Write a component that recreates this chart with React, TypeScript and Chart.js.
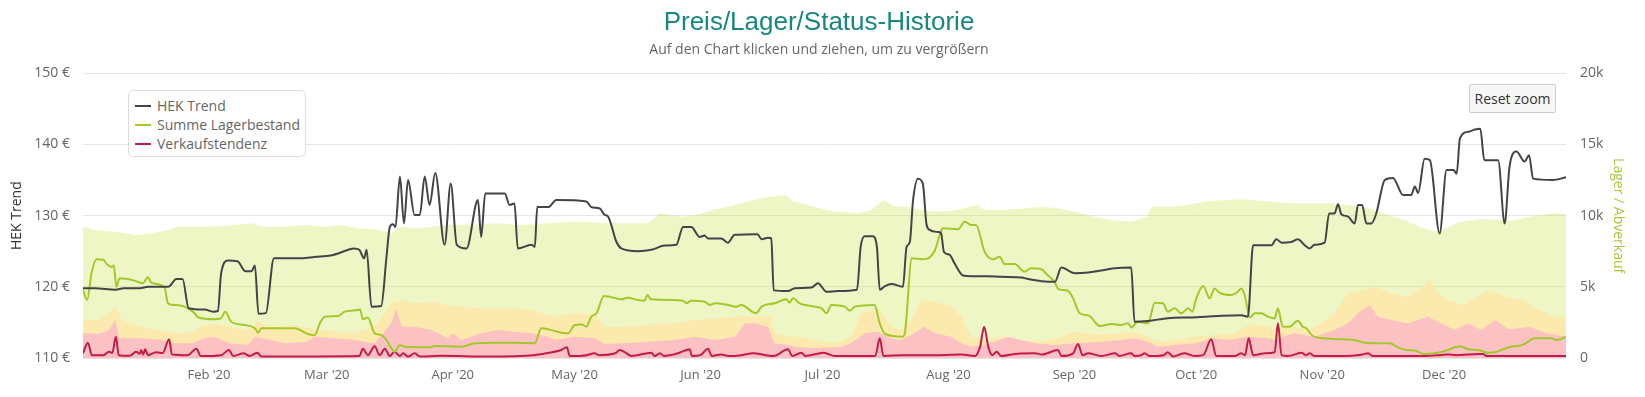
import React, { useEffect, useRef } from 'react';
import { Chart, registerables } from 'chart.js';

Chart.register(...registerables);

// ---- categories / ticks ----
const monthTickDays = [31, 60, 91, 121, 152, 182, 213, 244, 274, 305, 335];
const monthTickLabels = ["Feb '20", "Mar '20", "Apr '20", "May '20", "Jun '20", "Jul '20", "Aug '20", "Sep '20", "Oct '20", "Nov '20", "Dec '20"];
const hekTickLabels = ['110 €', '120 €', '130 €', '140 €', '150 €'];
const lagerTickLabels = ['0', '5k', '10k', '15k', '20k'];

// ---- HEK Trend (day of year 2020, €) ----
const hekDays = [0, 3, 8, 10, 14, 16, 21, 23, 24.5, 26, 30, 32, 33.2, 34, 35.7, 38, 40, 41.5, 42.3, 43.2, 45, 47, 54, 57, 61, 65.3, 66.6, 68, 69.2, 69.8, 71, 73.4, 74.7, 75.5, 76.3, 76.9, 78, 79, 80, 81.6, 82.9, 84.1, 85.3, 86.7, 89, 90.5, 92, 94.4, 97.2, 98, 99, 103.8, 105, 106.2, 107, 110.4, 111.2, 111.8, 114.5, 116.5, 123.9, 125.1, 127.2, 128.4, 129.2, 131.3, 132.5, 136.6, 139.9, 143.2, 146, 147.7, 149.7, 151.8, 153, 153.8, 157.1, 158.7, 160.4, 166, 167, 168.6, 169.4, 170, 173.5, 175.2, 179.3, 180.9, 183, 185.8, 190.5, 191.4, 192.4, 194.4, 195.4, 196.1, 197.4, 199, 201.8, 202.7, 203.5, 204.3, 205.5, 206.7, 207.6, 208.4, 210.4, 211.2, 211.9, 213.3, 214.5, 216.6, 218.6, 222.8, 226, 231, 232.6, 235.9, 239.2, 240.8, 244.1, 247.4, 250.6, 253.9, 258, 258.8, 262.1, 267, 272.8, 279.4, 285.1, 286.7, 288, 292.5, 293.7, 295, 297.4, 299, 300.7, 301.9, 303.1, 305.6, 306.7, 308, 308.9, 309.7, 311.3, 313, 313.8, 314.8, 315.9, 317.1, 318.3, 320.4, 322.4, 324.9, 326.9, 327.8, 328.6, 330.2, 331.5, 333.9, 335.6, 337.3, 338.1, 338.9, 341, 342.6, 343.9, 344.9, 348.3, 349.9, 351.1, 352.8, 354.8, 355.9, 356.9, 361.8, 365];
const hekValues = [119.8, 119.8, 119.6, 119.8, 119.8, 120.0, 120.0, 121.1, 121.1, 117.0, 116.8, 116.5, 116.6, 121.9, 123.7, 123.6, 122.2, 122.2, 123.0, 116.2, 116.3, 124.0, 124.0, 124.2, 124.4, 125.2, 125.4, 125.2, 124.0, 125.2, 117.2, 117.3, 124.2, 128.4, 128.8, 128.4, 135.5, 128.9, 135.0, 130.1, 130.1, 135.5, 131.5, 136.0, 125.9, 134.5, 125.9, 125.4, 132.2, 127.0, 133.1, 133.1, 131.5, 131.7, 125.4, 125.9, 125.6, 131.2, 131.2, 132.2, 132.0, 131.2, 131.0, 130.1, 129.9, 126.3, 125.4, 125.0, 125.2, 125.8, 125.9, 128.4, 128.4, 127.0, 127.2, 126.8, 126.8, 126.2, 127.3, 127.4, 126.7, 126.9, 126.8, 119.5, 119.4, 119.8, 119.9, 120.5, 119.3, 119.4, 119.6, 125.6, 127.1, 127.1, 125.6, 119.6, 120.1, 120.4, 120.0, 125.6, 126.3, 132.2, 135.2, 134.5, 128.8, 128.0, 127.7, 127.5, 124.9, 124.5, 123.3, 121.6, 121.5, 121.5, 121.4, 121.3, 121.1, 120.8, 120.7, 122.7, 121.9, 122.0, 122.3, 122.6, 122.7, 115.1, 115.2, 115.6, 115.7, 115.9, 116.0, 115.8, 125.85, 125.85, 126.7, 126.2, 126.3, 126.7, 125.85, 125.4, 125.9, 126.2, 130.3, 130.3, 131.6, 130.2, 129.9, 128.9, 131.5, 131.5, 128.9, 128.9, 130.3, 135.0, 135.3, 132.9, 132.9, 134.1, 133.2, 138.0, 137.8, 127.5, 136.4, 136.4, 135.9, 140.9, 141.8, 142.1, 142.2, 137.8, 137.8, 128.9, 136.9, 139.0, 137.6, 138.5, 135.2, 135.0, 135.4];

// ---- Summe Lagerbestand ----
const lagerDays = [0, 1, 2.1, 3.3, 5, 5.8, 7, 7.6, 8.2, 9, 12.7, 14.7, 16, 16.8, 20.1, 20.9, 22.5, 25, 27.5, 28.3, 32.4, 34, 35, 36.5, 39.8, 42.3, 43.1, 43.9, 52.1, 55.4, 57, 58.3, 59.5, 62.8, 64.4, 67.7, 68.2, 68.9, 70.1, 71.8, 73.4, 74.7, 76.7, 78, 79.2, 85.7, 86.5, 93.1, 96.4, 101.3, 106.2, 111.2, 112.8, 114.5, 117.7, 119.4, 121, 122.7, 123.9, 125.1, 126.4, 128.2, 129.6, 132.5, 134, 136.6, 138.2, 138.9, 139.8, 144.8, 147.7, 148.5, 149.7, 153, 154.3, 155.5, 158.7, 160.8, 162, 165.7, 167, 170.2, 173.1, 173.9, 174.7, 176.4, 180.1, 181.8, 183, 184.2, 187.5, 188.7, 190, 194.8, 196.1, 197.4, 201.8, 202.3, 204, 206.7, 208, 209.7, 211.3, 211.7, 215.4, 217, 218.6, 219.8, 221.9, 224, 225.6, 226.8, 229.3, 231.7, 233.3, 235.9, 237.1, 239.2, 240, 242.4, 243.7, 245.3, 247.7, 249, 250.3, 253.1, 255.5, 257.2, 258, 259.6, 262.1, 263.8, 265.8, 267, 268.7, 270.3, 272, 273, 274, 275.7, 277.3, 278.5, 279.7, 282.6, 284, 285.1, 285.9, 287.2, 288.4, 290, 291.7, 293.3, 294.1, 295.3, 297, 299, 300.2, 301.1, 302.7, 305.6, 309.7, 313, 315.5, 319.6, 321.6, 323.7, 325.7, 327.8, 330.2, 332.7, 336, 337.6, 339, 341, 343.4, 345.8, 347.5, 349.1, 351.4, 353.1, 354.7, 357.3, 361.3, 362.9, 365];
const lagerValues = [4777, 4075, 5950, 6930, 6900, 6620, 6385, 6500, 5010, 5600, 5435, 5250, 5670, 5290, 4940, 3840, 3725, 3610, 3140, 2860, 2720, 2800, 3255, 2550, 2320, 2085, 1780, 2085, 2085, 1686, 1600, 2435, 2900, 2950, 3255, 3370, 3400, 2730, 2850, 1735, 1620, 1265, 443, 910, 794, 750, 850, 794, 1030, 1075, 1075, 1030, 2085, 2020, 1780, 1735, 2320, 2360, 2200, 2900, 3140, 4355, 4310, 4120, 4240, 4075, 4030, 4425, 4120, 4075, 4030, 3840, 4030, 3960, 3725, 3840, 3725, 3600, 3725, 3140, 3610, 3840, 4120, 3890, 4190, 3840, 3610, 3490, 3140, 3725, 3610, 3320, 3610, 3725, 2435, 1686, 1500, 1780, 7000, 6930, 7000, 7590, 8990, 9110, 9050, 9580, 9345, 9345, 7470, 6930, 7110, 6600, 6600, 6065, 6300, 6240, 5900, 5315, 4840, 4725, 4190, 3140, 2960, 2550, 2240, 2390, 2320, 2435, 2150, 2550, 2435, 3885, 3840, 3255, 3490, 3140, 3490, 3255, 4190, 5060, 4190, 4890, 4600, 4425, 4600, 4890, 4425, 2860, 3140, 3140, 2900, 2780, 3490, 2200, 2200, 2620, 2200, 2085, 1545, 1380, 1310, 1265, 1075, 1030, 1030, 750, 560, 520, 280, 330, 560, 750, 800, 610, 560, 375, 400, 560, 795, 840, 980, 1380, 1380, 1265, 1500];

// ---- Verkaufstendenz ----
const tendenzDays = [0, 1.2, 2.2, 5, 6.4, 7.2, 8.1, 8.8, 11.5, 13.1, 14, 14.3, 14.8, 15.3, 16, 18, 19.6, 21.2, 21.9, 25.8, 27.9, 29, 34, 35.9, 37, 39.6, 41, 42.9, 43.9, 68, 68.9, 70.1, 71.8, 73, 74.3, 75.5, 76.7, 78, 78.8, 80, 81.6, 83, 88, 100, 111, 114, 117.7, 119.1, 119.8, 124, 125.9, 127, 131, 132.1, 133.5, 135, 139.9, 140.7, 142, 143, 146.4, 148.1, 149.3, 149.9, 152, 153.8, 154.8, 157, 159, 162, 165, 168, 170, 173.5, 174.6, 176.8, 177.8, 182.3, 185, 195, 196.1, 197, 202, 207.8, 211, 216.2, 219.5, 220.8, 221.8, 222.8, 223.8, 224.9, 226, 230, 234.3, 236, 240, 240.8, 243.7, 244.9, 246, 247.4, 250.6, 254.1, 255, 258, 258.8, 260.5, 261.3, 262.5, 266, 267, 268.3, 271, 273.6, 275.7, 277.7, 278.9, 283.5, 285, 286, 286.9, 288, 291, 293.3, 294.1, 295, 296.6, 299.9, 301, 301.9, 303.1, 310, 315, 316.3, 317.5, 330, 334, 336, 338, 341, 344.6, 345.4, 365];
const tendenzValues = [330, 1075, 200, 200, 445, 350, 1500, 200, 150, 445, 300, 560, 250, 610, 200, 400, 350, 1310, 250, 200, 655, 140, 200, 560, 140, 330, 140, 375, 100, 140, 655, 200, 820, 200, 655, 140, 445, 140, 330, 100, 330, 100, 150, 100, 200, 330, 560, 750, 140, 200, 330, 200, 330, 560, 375, 140, 375, 140, 330, 140, 330, 520, 610, 140, 200, 655, 140, 250, 140, 200, 330, 200, 140, 610, 140, 375, 140, 375, 140, 140, 1380, 140, 200, 200, 200, 250, 140, 800, 2200, 800, 200, 445, 140, 300, 330, 250, 560, 140, 330, 985, 200, 330, 140, 330, 140, 330, 140, 200, 330, 140, 200, 400, 100, 330, 140, 200, 1310, 140, 140, 330, 200, 1380, 200, 330, 400, 2435, 200, 140, 375, 200, 330, 140, 140, 250, 330, 140, 140, 200, 250, 200, 250, 280, 140, 140];

// ---- background areas (Lager / Abverkauf axis) ----
const areaGreenDays = [0, 3, 8, 13, 17, 21, 23, 30, 36, 42, 44, 49, 55, 60, 63, 68, 73, 76, 78, 82, 86, 90, 97, 102, 107, 111, 114, 117, 120, 123, 128, 134, 139, 142, 145, 147, 151, 155, 160, 162, 165, 169, 173, 175, 180, 185, 191, 194, 197, 200, 203, 206, 210, 215, 220, 222, 227, 232, 236, 240, 244, 249, 253, 258, 262, 263, 268, 272, 276, 281, 285, 292, 297, 302, 307, 311, 315, 320, 325, 330, 333, 336, 339, 344, 349, 352, 356, 362, 365];
const areaGreenValues = [9225, 8990, 8875, 8640, 8760, 8990, 9225, 9225, 9300, 9460, 9225, 9225, 9340, 9225, 9340, 9110, 8990, 8760, 9225, 9110, 9225, 9340, 9400, 9460, 9340, 9400, 9460, 9500, 9580, 9580, 9460, 9460, 9460, 10165, 10050, 9930, 10050, 10400, 10700, 10870, 11100, 11330, 11450, 10990, 10630, 10280, 10165, 10400, 11100, 10630, 10630, 10400, 10280, 10400, 10750, 10400, 10400, 10520, 10630, 10520, 10280, 9930, 9700, 9580, 9930, 10630, 10630, 10750, 10990, 11100, 11160, 10990, 10870, 10870, 10870, 10750, 10630, 10165, 9700, 9110, 8870, 9200, 9580, 9745, 9700, 9650, 9930, 10165, 10100];
const areaYellowDays = [0, 4, 6.4, 8.1, 9.6, 14.3, 19.3, 22.5, 26, 28.9, 32.4, 36, 40.6, 42.7, 46, 52, 57, 62, 66.6, 71.8, 75.9, 78.4, 81.6, 85.7, 89, 93, 98, 102, 106.2, 110.4, 113, 116, 121, 126, 128.4, 133, 139, 145.6, 150.6, 155.5, 160.4, 165, 169.4, 170.2, 173.5, 176, 180.1, 185, 189.1, 191.5, 195.6, 198.9, 201.3, 203.8, 206.3, 209.6, 213.7, 216.2, 218.6, 222, 226, 231, 236, 240, 244.1, 250.6, 255, 258.8, 262.1, 264.5, 268.7, 273.6, 278.5, 283.5, 287.5, 291.7, 294, 297.4, 301.5, 304.8, 308, 311.3, 314.6, 317.9, 322, 326.1, 328.6, 331.4, 333.5, 336, 339.5, 343, 346, 350.3, 354.4, 357.7, 361.8, 365];
const areaYellowValues = [2670, 2670, 3140, 3610, 2670, 2200, 1920, 1735, 1735, 2200, 2435, 2200, 1970, 2550, 2200, 2320, 2010, 1900, 1735, 2200, 3840, 4075, 3840, 3960, 3725, 3610, 3490, 3490, 3490, 3370, 3140, 2900, 3140, 3030, 2200, 2200, 2320, 2435, 2670, 2780, 2900, 2900, 2900, 1735, 1500, 1500, 1265, 1030, 1500, 3140, 3490, 2200, 1970, 2670, 4075, 3960, 3610, 2900, 1500, 1265, 1500, 1265, 1150, 1380, 1850, 1620, 1735, 1850, 1500, 1150, 1265, 1500, 1620, 1735, 2435, 2200, 2010, 2200, 2010, 2435, 3140, 4540, 4777, 5010, 4540, 4310, 4777, 5550, 4540, 4075, 3725, 4310, 4777, 4310, 4075, 3490, 2900, 2900];
const areaPinkDays = [0, 4, 6.4, 7.9, 9, 14, 19.3, 22.5, 27, 29.7, 32.4, 36, 40.6, 42.3, 46, 50, 55, 57, 62, 66.6, 71.8, 75.9, 77.1, 78.4, 81.6, 85.7, 89.8, 91, 93.1, 98, 102.1, 106, 110.4, 114.5, 116, 121, 126, 128.4, 133, 139, 145.6, 150.6, 155.5, 160.4, 162.9, 165.3, 168.6, 170.2, 173.5, 175.2, 180.1, 186.7, 189.1, 192.4, 195.6, 198.9, 201.3, 203.8, 207.1, 209.6, 213.7, 216.2, 218.6, 222, 227.6, 230.9, 234.3, 239, 244.1, 250.6, 255.5, 258.8, 262, 264.5, 268.7, 273.6, 278.5, 282, 286.7, 291.7, 293.3, 296.6, 298, 303, 308, 311.3, 313.8, 316.7, 318.7, 322, 326.1, 331, 334.3, 337.6, 340.9, 344.2, 347.5, 351, 356, 360.1, 365];
const areaPinkValues = [1735, 1700, 1970, 2670, 1380, 1380, 1265, 1030, 1030, 1380, 1500, 1030, 910, 1500, 1265, 1030, 1150, 1500, 1380, 1265, 1030, 2435, 3490, 2200, 2200, 1970, 1380, 1735, 1265, 1735, 1970, 1850, 1735, 1500, 1265, 1500, 1380, 985, 1030, 1150, 1265, 1500, 1265, 1500, 2435, 2435, 2200, 1030, 910, 795, 680, 795, 1030, 1735, 1850, 1380, 1265, 1620, 2200, 1735, 1500, 1030, 795, 910, 1500, 1265, 1030, 910, 1030, 1150, 1265, 1380, 1150, 795, 910, 1030, 1380, 1265, 1500, 1380, 1265, 1620, 1735, 1500, 1970, 2435, 3140, 3725, 2900, 2670, 2435, 2900, 2435, 1970, 2435, 1970, 2670, 2000, 2200, 1735, 1500];

const FONT = "'Open Sans', sans-serif";
const toPoints = (xs: number[], ys: number[]) => xs.map((x, i) => ({ x, y: ys[i] }));

const legendItems = [
  { label: 'HEK Trend', color: '#434348' },
  { label: 'Summe Lagerbestand', color: '#a3c82c' },
  { label: 'Verkaufstendenz', color: '#c41a4c' },
];

export default function App() {
  const canvasRef = useRef<HTMLCanvasElement | null>(null);

  useEffect(() => {
    if (!canvasRef.current) return;
    Chart.defaults.font.family = FONT;
    const chart = new Chart(canvasRef.current, {
      type: 'line',
      data: {
        datasets: [
          {
            label: 'HEK Trend', data: toPoints(hekDays, hekValues), yAxisID: 'y',
            borderColor: '#434348', borderWidth: 2, pointRadius: 0, fill: false,
            cubicInterpolationMode: 'monotone', order: 0,
          },
          {
            label: 'Summe Lagerbestand', data: toPoints(lagerDays, lagerValues), yAxisID: 'y1',
            borderColor: '#a3c82c', borderWidth: 2, pointRadius: 0, fill: false,
            cubicInterpolationMode: 'monotone', order: 1,
          },
          {
            label: 'Verkaufstendenz', data: toPoints(tendenzDays, tendenzValues), yAxisID: 'y1',
            borderColor: '#c41a4c', borderWidth: 2, pointRadius: 0, fill: false,
            cubicInterpolationMode: 'monotone', order: 2,
          },
          {
            label: 'pink', data: toPoints(areaPinkDays, areaPinkValues), yAxisID: 'y1',
            borderWidth: 0, pointRadius: 0, fill: 'origin', backgroundColor: 'rgba(252,190,196,0.92)', order: 3,
          },
          {
            label: 'yellow', data: toPoints(areaYellowDays, areaYellowValues), yAxisID: 'y1',
            borderWidth: 0, pointRadius: 0, fill: 'origin', backgroundColor: 'rgba(255,232,170,0.85)', order: 4,
          },
          {
            label: 'green', data: toPoints(areaGreenDays, areaGreenValues), yAxisID: 'y1',
            borderWidth: 0, pointRadius: 0, fill: 'origin', backgroundColor: 'rgba(206,229,86,0.34)', order: 5,
          },
        ],
      },
      options: {
        animation: false,
        responsive: false,
        devicePixelRatio: 1,
        events: [],
        layout: { padding: { top: 7, left: 0, right: 7, bottom: 0 } },
        plugins: {
          legend: { display: false },
          tooltip: { enabled: false },
          title: {
            display: true, text: 'Preis/Lager/Status-Historie', color: '#17877f',
            font: { family: "'Liberation Sans', Arial, sans-serif", size: 26, weight: 'normal' },
            padding: { top: 0, bottom: 0 },
          },
          subtitle: {
            display: true, text: 'Auf den Chart klicken und ziehen, um zu vergrößern', color: '#666666',
            font: { family: FONT, size: 14, weight: 'normal' },
            padding: { top: 3, bottom: 15.3 },
          },
        },
        scales: {
          x: {
            type: 'linear', min: 0, max: 365,
            grid: { display: false, drawTicks: false },
            border: { display: false },
            afterBuildTicks: (s: any) => { s.ticks = monthTickDays.map((v) => ({ value: v })); },
            afterFit: (s: any) => { s.height = 39; },
            ticks: {
              autoSkip: false, maxRotation: 0, minRotation: 0, padding: 9, color: '#666666',
              font: { family: FONT, size: 13 },
              callback: (_v: any, i: number) => monthTickLabels[i],
            },
          },
          y: {
            position: 'left', min: 110, max: 150,
            grid: { color: '#e6e6e6', lineWidth: 1, drawTicks: false },
            border: { display: false },
            afterFit: (s: any) => { s.width = 83; },
            ticks: {
              stepSize: 10, padding: 13, color: '#666666', font: { family: FONT, size: 14 },
              callback: (_v: any, i: number) => hekTickLabels[i],
            },
            title: {
              display: true, text: 'HEK Trend', color: '#333333',
              font: { family: FONT, size: 14 }, padding: { top: 9, bottom: 0 },
            },
          },
          y1: {
            position: 'right', min: 0, max: 20000,
            grid: { display: false, drawTicks: false },
            border: { display: false },
            afterFit: (s: any) => { s.width = 72; },
            ticks: {
              stepSize: 5000, padding: 14, color: '#666666', font: { family: FONT, size: 14 },
              callback: (_v: any, i: number) => lagerTickLabels[i],
            },
            title: {
              display: true, text: 'Lager / Abverkauf', color: '#a6c93a',
              font: { family: FONT, size: 14 }, padding: { top: 12, bottom: 0 },
            },
          },
        },
      } as any,
    });
    return () => chart.destroy();
  }, []);

  return (
    <div style={{ position: 'absolute', left: 0, top: 0, width: 1645, height: 397, background: '#fff' }}>
      <canvas ref={canvasRef} width={1645} height={397} style={{ display: 'block' }} />
      <div
        style={{
          position: 'absolute', left: 128, top: 90, width: 178, height: 67, boxSizing: 'border-box',
          background: '#fff', border: '1px solid #dddddd', borderRadius: 5, fontFamily: FONT,
        }}
      >
        {legendItems.map((it, i) => (
          <div
            key={it.label}
            style={{
              position: 'absolute', left: 6, top: 5 + i * 19, height: 19, display: 'flex', alignItems: 'center',
              whiteSpace: 'nowrap',
            }}
          >
            <span style={{ display: 'inline-block', width: 16, height: 2, background: it.color, marginRight: 6 }} />
            <span style={{ fontSize: 14, color: '#666666', lineHeight: '19px' }}>{it.label}</span>
          </div>
        ))}
      </div>
      <button
        style={{
          position: 'absolute', left: 1469, top: 84, width: 87, height: 29, padding: 0,
          background: '#f7f7f7', border: '1px solid #cccccc', borderRadius: 2,
          fontFamily: FONT, fontSize: 14, color: '#333333', cursor: 'pointer',
        }}
      >
        Reset zoom
      </button>
    </div>
  );
}
